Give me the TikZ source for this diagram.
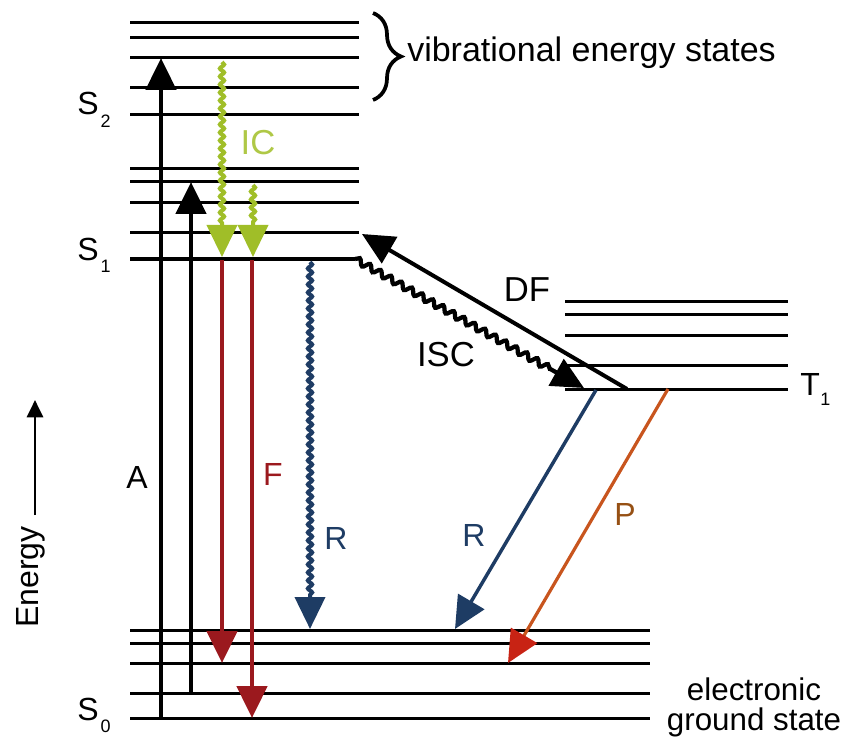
\documentclass[tikz,border=0pt]{standalone}
\usepackage{fontspec}
\setmainfont{Liberation Sans}
\usetikzlibrary{arrows.meta,decorations.pathmorphing,decorations.pathreplacing}
\definecolor{icgreen}{RGB}{160,190,40}
\definecolor{iclabel}{RGB}{175,200,70}
\definecolor{fred}{RGB}{155,25,30}
\definecolor{rblue}{RGB}{30,60,100}
\definecolor{porange}{RGB}{200,85,30}
\definecolor{pred}{RGB}{200,35,20}
\definecolor{plabel}{RGB}{150,80,20}
\newcommand\withsub[2]{#1\kern1.5pt\raisebox{-9.5pt}{\fontsize{13.5}{13.5}\selectfont #2}}
\begin{document}
\begin{tikzpicture}[x=0.75pt,y=-0.75pt,
  level/.style={line width=2.25pt, line cap=butt},
  bigtip/.style={-{Triangle[width=22.5pt,length=24pt]}},
  wavy/.style={decorate, decoration={snake, amplitude=1.6pt, segment length=6pt, post length=24pt}},
  isc/.style={decorate, decoration={snake, amplitude=2.3pt, segment length=9pt, post length=26pt}},
  biglab/.style={font=\fontsize{24}{24}\selectfont},
  proclab/.style={font=\fontsize{26}{26}\selectfont},
  statelab/.style={font=\fontsize{24}{24}\selectfont, anchor=base west, inner sep=0pt}]
\useasboundingbox (0,0) rectangle (844,742);

% ---- vibrational levels ----
\foreach \y in {23,38,58,88,115,169,182,203,233} \draw[level] (130,\y) -- (359,\y);
\draw[level] (130,259) -- (355,259);
\foreach \y in {630,643,663,693,718} \draw[level] (130,\y) -- (650,\y);
\foreach \y in {301,314,335,365,389} \draw[level] (565,\y) -- (788,\y);

% ---- state labels ----
\node[statelab] (S2) at (77,115) {\withsub{S}{2}};
\node[statelab] (S1) at (77,260) {\withsub{S}{1}};
\node[statelab] (S0) at (77,720) {\withsub{S}{0}};
\node[statelab] (T1) at (800,395) {T\kern0.5pt\raisebox{-8pt}{\fontsize{13.5}{13.5}\selectfont 1}};

% ---- brace and annotations ----
\draw[line width=2.8pt, decorate, decoration={brace, amplitude=21pt}] (373,13) -- (373,100);
\node[anchor=west, inner sep=0pt, font=\fontsize{25.5}{25.5}\selectfont] (vib) at (407,53) {vibrational energy states};
\node[align=center, inner sep=0pt, font=\fontsize{23.5}{22.5}\selectfont] (ground) at (754,707) {electronic\\ground state};

% ---- energy axis ----
\node[rotate=90, anchor=base, inner sep=0pt, font=\fontsize{24}{24}\selectfont] (energy) at (38,577) {Energy};
\coordinate (ebot) at (35,515);
\coordinate (etop) at (35,400);
\draw[line width=2.2pt, -{Triangle[width=12pt,length=13pt]}] (ebot) -- (etop);

% ---- endpoints ----
\coordinate (Abot) at (161,718);  \coordinate (Atop) at (161,58);
\coordinate (Bbot) at (191,693);  \coordinate (Btop) at (191,182);
\coordinate (IC1s) at (222,62);   \coordinate (IC1e) at (222,257);
\coordinate (IC2s) at (253,185);  \coordinate (IC2e) at (253,257);
\coordinate (F1s) at (222,260);   \coordinate (F1e) at (222,663);
\coordinate (F2s) at (252,260);   \coordinate (F2e) at (252,718);
\coordinate (R1s) at (310,262);   \coordinate (R1e) at (310,629);
\coordinate (ISCs) at (355,259);  \coordinate (ISCe) at (584,388);
\coordinate (DFs) at (627,389);   \coordinate (DFe) at (362,234);
\coordinate (R2s) at (596,390);   \coordinate (R2e) at (455,629);
\coordinate (Ps) at (668,389);    \coordinate (Pe) at (508,663);

% ---- absorption ----
\draw[line width=3.6pt, bigtip] (Abot) -- (Atop);
\draw[line width=3.6pt, bigtip] (Bbot) -- (Btop);

% ---- internal conversion ----
\draw[icgreen, line width=3pt, wavy, bigtip] (IC1s) -- (IC1e);
\draw[icgreen, line width=3pt, wavy, bigtip] (IC2s) -- (IC2e);

% ---- fluorescence ----
\draw[fred, line width=3.6pt, bigtip] (F1s) -- (F1e);
\draw[fred, line width=3.6pt, bigtip] (F2s) -- (F2e);

% ---- radiationless from S1 ----
\draw[rblue, line width=3pt, wavy, bigtip] (R1s) -- (R1e);

% ---- ISC and DF ----
\draw[line width=3.2pt, isc, bigtip] (ISCs) -- (ISCe);
\draw[line width=3pt, bigtip] (DFs) -- (DFe);

% ---- from T1 ----
\draw[rblue, line width=2.6pt, bigtip] (R2s) -- (R2e);
\draw[porange, line width=2.4pt, -{Triangle[width=22.5pt,length=24pt,color=pred]}] (Ps) -- (Pe);

% ---- process labels ----
\node[proclab, text=iclabel] (ICl) at (258,143) {IC};
\node[proclab] (DFl) at (527,290) {DF};
\node[proclab] (ISCl) at (446,355) {ISC};
\node[biglab] (Al) at (137,477) {A};
\node[biglab, text=fred] (Fl) at (273,474) {F};
\node[biglab, text=rblue] (R1l) at (336,538) {R};
\node[biglab, text=rblue] (R2l) at (474,535) {R};
\node[biglab, text=plabel] (Pl) at (625,514) {P};
\end{tikzpicture}
\end{document}
